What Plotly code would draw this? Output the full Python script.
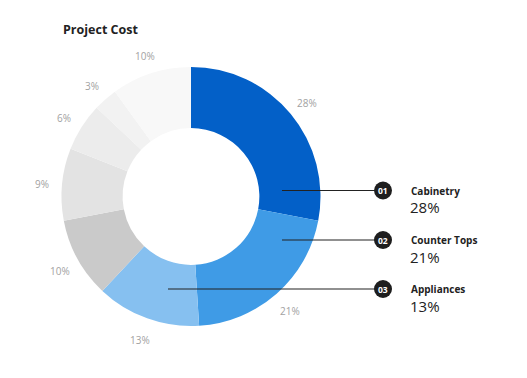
import math
import plotly.graph_objects as go

W, H = 527, 378

# data
slice_names = ["Cabinetry", "Counter Tops", "Appliances", "Item 4", "Item 5", "Item 6", "Item 7", "Item 8"]
slice_values = [28, 21, 13, 10, 9, 6, 3, 10]
slice_colors = ["#0360c8", "#3f9be6", "#86c0f0", "#cacaca", "#e3e3e3", "#ececec", "#f2f2f2", "#f8f8f8"]
callout_labels = ["Cabinetry", "Counter Tops", "Appliances"]
callout_numbers = ["01", "02", "03"]
callout_values = [28, 21, 13]

def px_x(x):
    return x / W

def px_y(y):
    return 1 - y / H

cx, cy, r = 191, 196.5, 129.5

fig = go.Figure(go.Pie(
    labels=slice_names,
    values=slice_values,
    textinfo="none",
    marker=dict(colors=slice_colors, line=dict(width=0)),
    hole=0.528,
    sort=False,
    direction="clockwise",
    rotation=0,
    domain=dict(x=[px_x(cx - r), px_x(cx + r)], y=[px_y(cy + r), px_y(cy - r)]),
    showlegend=False,
    hoverinfo="skip",
))

shapes = []
annotations = []

# outside percentage labels at each slice's mid angle
total = sum(slice_values)
cum = 0
label_r = 150
for v in slice_values:
    mid = (cum + v / 2) / total * 2 * math.pi
    cum += v
    lx = cx + label_r * math.sin(mid)
    ly = cy - label_r * math.cos(mid) + 2
    annotations.append(dict(x=px_x(lx), y=px_y(ly), xref="paper", yref="paper",
                            text=f"{v}%", showarrow=False,
                            font=dict(color="#a2a2a2", size=10, family="Open Sans"),
                            xanchor="center", yanchor="middle"))

line_ys = [190.5, 240, 289]
line_x0 = [282, 282, 168]
circle_x = 383
for i in range(3):
    y = line_ys[i]
    shapes.append(dict(type="line", xref="paper", yref="paper",
                       x0=px_x(line_x0[i]), x1=px_x(circle_x), y0=px_y(y), y1=px_y(y),
                       line=dict(color="#222222", width=1.2)))
    shapes.append(dict(type="circle", xref="paper", yref="paper",
                       x0=px_x(circle_x - 9), x1=px_x(circle_x + 9),
                       y0=px_y(y + 9), y1=px_y(y - 9),
                       fillcolor="#1e1e1e", line=dict(width=0)))
    annotations.append(dict(x=px_x(circle_x), y=px_y(y), xref="paper", yref="paper",
                            text=f"<b>{callout_numbers[i]}</b>", showarrow=False,
                            font=dict(color="white", size=8.5, family="Open Sans"),
                            xanchor="center", yanchor="middle"))
    annotations.append(dict(x=px_x(409), y=px_y(y), xref="paper", yref="paper",
                            text=f"<b>{callout_labels[i]}</b>", showarrow=False,
                            font=dict(color="#222222", size=10, family="Open Sans"),
                            xanchor="left", yanchor="middle"))
    annotations.append(dict(x=px_x(408), y=px_y(y + 16.5), xref="paper", yref="paper",
                            text=f"{callout_values[i]}%", showarrow=False,
                            font=dict(color="#222222", size=15, family="Open Sans"),
                            xanchor="left", yanchor="middle"))

annotations.append(dict(x=px_x(61), y=px_y(30), xref="paper", yref="paper",
                        text="<b>Project Cost</b>", showarrow=False,
                        font=dict(color="#222222", size=12.5, family="Open Sans"),
                        xanchor="left", yanchor="middle"))

fig.update_layout(
    width=W, height=H,
    margin=dict(l=0, r=0, t=0, b=0),
    paper_bgcolor="white", plot_bgcolor="white",
    shapes=shapes, annotations=annotations,
)

fig.write_html("out.html", config={"displayModeBar": False},
               post_script="document.body.style.margin='0px';")
